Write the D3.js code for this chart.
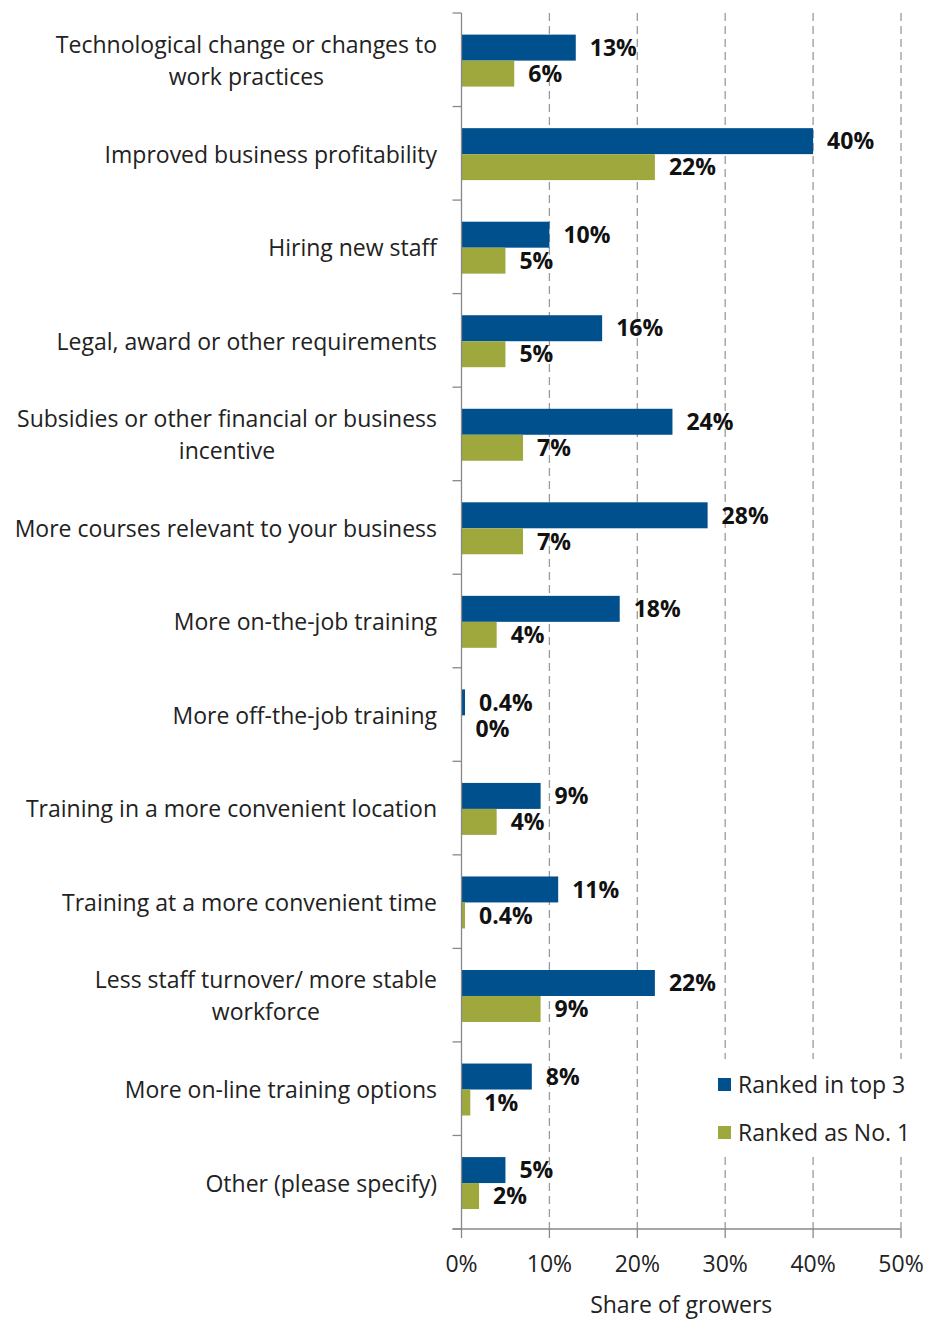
<!DOCTYPE html>
<html>
<head>
<meta charset="utf-8">
<script src="https://cdn.jsdelivr.net/npm/d3@7"></script>
<style>
  html, body { margin: 0; padding: 0; background: #fff; }
  svg { display: block; }
</style>
</head>
<body>
<svg id="chart" width="926" height="1320"></svg>
<script>
// Reasons that would encourage growers to invest in training
const categories = [
  ["Technological change or changes to", "work practices"],
  ["Improved business profitability"],
  ["Hiring new staff"],
  ["Legal, award or other requirements"],
  ["Subsidies or other financial or business", "incentive"],
  ["More courses relevant to your business"],
  ["More on-the-job training"],
  ["More off-the-job training"],
  ["Training in a more convenient location"],
  ["Training at a more convenient time"],
  ["Less staff turnover/ more stable", "workforce"],
  ["More on-line training options"],
  ["Other (please specify)"]
];
const seriesNames = ["Ranked in top 3", "Ranked as No. 1"];
const rankedTop3 = [13, 40, 10, 16, 24, 28, 18, 0.4, 9, 11, 22, 8, 5];
const rankedNo1 = [6, 22, 5, 5, 7, 7, 4, 0, 4, 0.4, 9, 1, 2];
const xTicks = [0, 10, 20, 30, 40, 50];
const axisTitle = "Share of growers";

const colors = ["#00508e", "#9fa83d"];
const font = "'Open Sans', sans-serif";
const fontSize = 23;

const svg = d3.select("#chart");
const plot = { left: 461.5, right: 901, top: 13, bottom: 1229 };

const x = d3.scaleLinear().domain([0, 50]).range([plot.left, plot.right]);
const y = d3.scaleBand()
  .domain(d3.range(categories.length))
  .range([plot.top, plot.bottom])
  .padding(0);
const ySub = d3.scaleBand()
  .domain([0, 1])
  .range([0, y.bandwidth()])
  .paddingInner(0)
  .paddingOuter(0.8)
  .align(0.52);

const fmt = v => (v % 1 === 0 ? v.toFixed(0) : v.toFixed(1)) + "%";

// dashed vertical gridlines
svg.append("g")
  .selectAll("line")
  .data(xTicks.filter(t => t > 0))
  .join("line")
  .attr("x1", d => x(d)).attr("x2", d => x(d))
  .attr("y1", plot.top).attr("y2", plot.bottom)
  .attr("stroke", "#9a9a9a")
  .attr("stroke-width", 1.3)
  .attr("stroke-dasharray", "8,5");

// bars
const rows = categories.map((c, i) => ({ i, values: [rankedTop3[i], rankedNo1[i]] }));
const groups = svg.append("g").selectAll("g")
  .data(rows)
  .join("g")
  .attr("transform", d => `translate(0,${y(d.i)})`);

groups.selectAll("rect")
  .data(d => d.values.map((v, s) => ({ v, s })))
  .join("rect")
  .attr("x", x(0))
  .attr("y", d => ySub(d.s))
  .attr("width", d => x(d.v) - x(0))
  .attr("height", ySub.bandwidth())
  .attr("fill", d => colors[d.s]);

groups.selectAll("text.val")
  .data(d => d.values.map((v, s) => ({ v, s })))
  .join("text")
  .attr("class", "val")
  .attr("x", d => x(d.v) + 14)
  .attr("y", d => ySub(d.s) + ySub.bandwidth() / 2)
  .attr("dy", "0.36em")
  .attr("font-family", font)
  .attr("font-size", fontSize)
  .attr("font-weight", 700)
  .attr("fill", "#111")
  .text(d => fmt(d.v));

// y axis with category ticks
const yAxis = svg.append("g");
yAxis.append("line")
  .attr("x1", plot.left).attr("x2", plot.left)
  .attr("y1", plot.top).attr("y2", plot.bottom)
  .attr("stroke", "#888").attr("stroke-width", 1.3);
yAxis.selectAll("line.tick")
  .data(d3.range(categories.length + 1))
  .join("line")
  .attr("class", "tick")
  .attr("x1", plot.left - 9).attr("x2", plot.left)
  .attr("y1", d => plot.top + d * y.step())
  .attr("y2", d => plot.top + d * y.step())
  .attr("stroke", "#888").attr("stroke-width", 1.3);

// category labels (multi-line labels are centred on their widest line)
const labelRight = 437;
const lineH = 32;
categories.forEach((lines, i) => {
  const g = svg.append("g");
  const cy = y(i) + y.bandwidth() / 2 + 1;
  const texts = lines.map((ln, k) => g.append("text")
    .attr("y", cy + (k - (lines.length - 1) / 2) * lineH)
    .attr("dy", "0.36em")
    .attr("font-family", font)
    .attr("font-size", fontSize)
    .attr("fill", "#222")
    .text(ln));
  if (lines.length === 1) {
    texts[0].attr("x", labelRight).attr("text-anchor", "end");
  } else {
    const w = d3.max(texts, t => t.node().getComputedTextLength());
    texts.forEach(t => t.attr("x", labelRight - w / 2).attr("text-anchor", "middle"));
  }
});

// x axis
const xAxis = svg.append("g");
xAxis.append("line")
  .attr("x1", plot.left - 9).attr("x2", plot.right)
  .attr("y1", plot.bottom).attr("y2", plot.bottom)
  .attr("stroke", "#888").attr("stroke-width", 1.3);
xAxis.selectAll("line.tick")
  .data(xTicks)
  .join("line")
  .attr("class", "tick")
  .attr("x1", d => x(d)).attr("x2", d => x(d))
  .attr("y1", plot.bottom).attr("y2", plot.bottom + 9)
  .attr("stroke", "#888").attr("stroke-width", 1.3);
xAxis.selectAll("text")
  .data(xTicks)
  .join("text")
  .attr("x", d => x(d))
  .attr("y", 1272)
  .attr("text-anchor", "middle")
  .attr("font-family", font)
  .attr("font-size", fontSize)
  .attr("fill", "#222")
  .text(d => d + "%");

svg.append("text")
  .attr("x", x(25))
  .attr("y", 1313)
  .attr("text-anchor", "middle")
  .attr("font-family", font)
  .attr("font-size", fontSize)
  .attr("fill", "#222")
  .text(axisTitle);

// legend on a white panel that masks the gridlines behind it
svg.append("rect")
  .attr("x", 705).attr("y", 1059)
  .attr("width", 221).attr("height", 97)
  .attr("fill", "#fff");
const legend = svg.append("g").attr("transform", "translate(718,1078)");
seriesNames.forEach((name, s) => {
  const g = legend.append("g").attr("transform", `translate(0,${s * 48})`);
  g.append("rect").attr("width", 13).attr("height", 13).attr("fill", colors[s]);
  g.append("text")
    .attr("x", 20).attr("y", 6.5).attr("dy", "0.36em")
    .attr("font-family", font)
    .attr("font-size", fontSize)
    .attr("fill", "#222")
    .text(name);
});
</script>
</body>
</html>
